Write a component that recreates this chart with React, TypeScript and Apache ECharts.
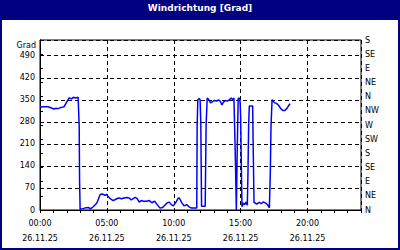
import React, { useEffect, useRef } from 'react';
import * as echarts from 'echarts';

const titleText = 'Windrichtung [Grad]';
const unitLabel = 'Grad';
const dateLabel = '26.11.25';
const hourLabels = ['00:00', '05:00', '10:00', '15:00', '20:00'];
const compassLabels = ['N', 'NE', 'E', 'SE', 'S', 'SW', 'W', 'NW', 'N', 'NE', 'E', 'SE', 'S'];

// time of day in hours
const hours = [
  0.0, 0.3, 0.6, 0.85, 1.05, 1.2, 1.35, 1.6, 1.8, 2.05, 2.18, 2.35, 2.5, 2.65, 2.85, 2.9, 2.93, 2.96, 3.0,
  3.35, 3.6, 3.8, 4.0, 4.25, 4.5, 4.65, 4.85, 5.0, 5.07, 5.22, 5.47, 5.67, 5.87, 6.12, 6.27, 6.48, 6.67,
  6.82, 6.97, 7.12, 7.27, 7.42, 7.57, 7.72, 7.97, 8.17, 8.37, 8.57, 8.77, 8.97, 9.17, 9.37, 9.52, 9.67,
  9.82, 9.97, 10.17, 10.32, 10.42, 10.57, 10.77, 10.97, 11.12, 11.32, 11.72,
  11.75, 11.8, 11.9, 11.97, 12.02, 12.08, 12.35, 12.42, 12.5, 12.6, 12.75, 12.9, 13.05, 13.2, 13.35,
  13.5, 13.6, 13.7, 13.85, 14.0, 14.15, 14.3, 14.4, 14.5, 14.55, 14.62, 14.68, 14.75, 14.82, 14.9,
  14.95, 15.0, 15.05, 15.1, 15.2, 15.3, 15.4, 15.5, 15.55, 15.6, 15.65, 15.9, 15.93, 16.0, 16.2, 16.4,
  16.55, 16.7, 16.9, 17.05, 17.15, 17.22, 17.27, 17.35, 17.5, 17.7, 17.85, 18.0, 18.15, 18.3, 18.45,
  18.6, 18.7,
];

// wind direction in degrees
const degrees = [
  327, 328, 328, 324, 321, 323, 322, 326, 328, 347, 356, 353, 358, 356, 358, 358, 267, 88, 2,
  6, 8, 4, 11, 22, 49, 51, 47, 49, 44, 37, 30, 34, 38, 36, 38, 40, 38,
  32, 36, 40, 36, 25, 30, 28, 28, 30, 23, 28, 17, 6, 8, 17, 23, 25,
  17, 13, 25, 37, 38, 25, 13, 17, 11, 6, 6,
  270, 350, 354, 350, 280, 12, 12, 270, 356, 352, 340, 344, 348, 346, 350,
  344, 334, 342, 348, 346, 350, 356, 350, 356, 265, 138, 0, 200, 355, 355,
  352, 300, 150, 10, 22, 17, 25, 15, 120, 270, 330, 330, 229, 24, 19, 24,
  20, 26, 21, 15, 7, 120, 264, 350, 342, 338, 332, 322, 316, 316, 322,
  332, 338,
];

const FONT = 'DejaVu Sans';

export default function App() {
  const ref = useRef<HTMLDivElement>(null);

  useEffect(() => {
    if (!ref.current) return;
    const chart = echarts.init(ref.current, null, { renderer: 'svg' });
    const data = hours.map((h, i) => [h, degrees[i]]);

    chart.setOption({
      animation: false,
      backgroundColor: '#ffffff',
      title: {
        text: titleText,
        left: 'center',
        top: 3,
        padding: 0,
        textStyle: { color: '#ffffff', fontWeight: 'bold', fontSize: 9, fontFamily: FONT },
      },
      graphic: [
        { type: 'rect', z: 0, shape: { x: 0, y: 0, width: 400, height: 20 }, style: { fill: '#000080' } },
        { type: 'rect', z: 0, shape: { x: 1, y: 1, width: 398, height: 248 }, style: { fill: 'none', stroke: '#000080', lineWidth: 2 } },
        {
          type: 'text', x: 36, y: 45,
          style: { text: unitLabel, fill: '#000', font: `8px "${FONT}"`, align: 'right', verticalAlign: 'middle' },
        },
      ],
      grid: {
        left: 40, top: 40, width: 321, height: 170,
        show: true, borderColor: '#000', borderWidth: 1, backgroundColor: '#fff',
      },
      xAxis: [
        {
          type: 'value', min: 0, max: 24, interval: 5, position: 'bottom',
          axisLine: { show: true, lineStyle: { color: '#000', width: 1 } },
          axisTick: { show: false },
          splitLine: { show: true, lineStyle: { color: '#000', width: 1, type: [4, 3] } },
          axisLabel: {
            color: '#000', fontSize: 8, fontFamily: FONT, lineHeight: 15, margin: 6,
            formatter: (v: number) => {
              const idx = Math.round(v / 5);
              return v % 5 === 0 && idx < hourLabels.length ? `${hourLabels[idx]}\n${dateLabel}` : '';
            },
          },
        },
        {
          type: 'value', min: 0, max: 24, interval: 1, position: 'bottom',
          axisLine: { show: false },
          axisTick: { show: true, length: 3, lineStyle: { color: '#000' } },
          splitLine: { show: false },
          axisLabel: { show: false },
        },
      ],
      yAxis: [
        {
          type: 'value', min: 0, max: 540, interval: 70, position: 'left',
          axisLine: { show: true, lineStyle: { color: '#000', width: 1 } },
          axisTick: { show: false },
          splitLine: { show: true, lineStyle: { color: '#000', width: 1, type: [4, 3] } },
          axisLabel: {
            color: '#000', fontSize: 8, fontFamily: FONT, margin: 5,
            formatter: (v: number) => (v === 540 ? '' : String(v)),
          },
        },
        {
          type: 'value', min: 0, max: 540, interval: 45, position: 'right',
          axisLine: { show: true, lineStyle: { color: '#000', width: 1 } },
          axisTick: { show: true, length: 3, lineStyle: { color: '#000' } },
          splitLine: { show: false },
          axisLabel: {
            color: '#000', fontSize: 8, fontFamily: FONT, margin: 4,
            formatter: (v: number) => compassLabels[Math.round(v / 45)] ?? '',
          },
        },
      ],
      series: [
        {
          type: 'line', xAxisIndex: 0, yAxisIndex: 0, data,
          symbol: 'none', showSymbol: false,
          lineStyle: { color: '#0000ff', width: 1.5 },
        },
      ],
    });

    return () => chart.dispose();
  }, []);

  return (
    <div
      ref={ref}
      style={{ position: 'fixed', left: 0, top: 0, width: 400, height: 250, background: '#fff' }}
    />
  );
}
